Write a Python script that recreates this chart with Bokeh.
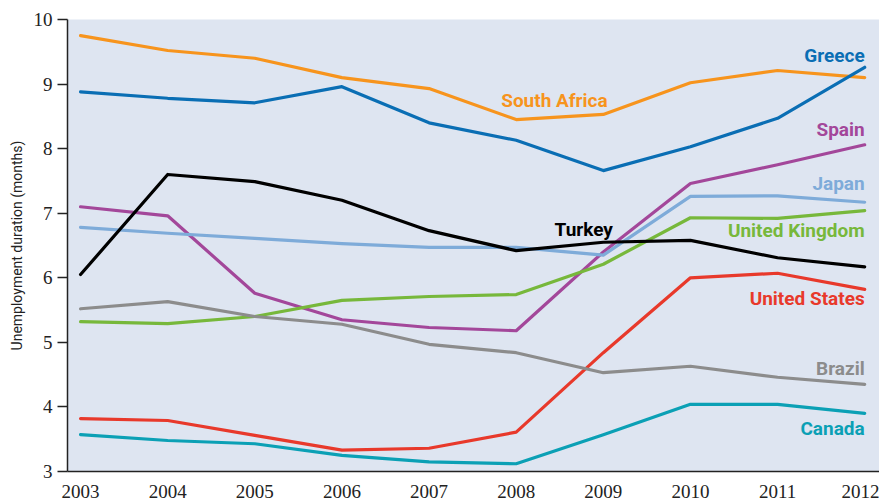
from bokeh.plotting import figure
from bokeh.embed import file_html
from bokeh.resources import INLINE
from bokeh.models import Range1d, FixedTicker
from bokeh.core.properties import value

years = [2003, 2004, 2005, 2006, 2007, 2008, 2009, 2010, 2011, 2012]

south_africa = [9.75, 9.52, 9.40, 9.10, 8.93, 8.45, 8.53, 9.02, 9.21, 9.10]
greece = [8.88, 8.78, 8.71, 8.96, 8.40, 8.13, 7.66, 8.03, 8.47, 9.26]
spain = [7.10, 6.96, 5.76, 5.35, 5.23, 5.18, 6.40, 7.46, 7.75, 8.06]
japan = [6.78, 6.69, 6.61, 6.53, 6.47, 6.47, 6.35, 7.26, 7.27, 7.17]
united_kingdom = [5.32, 5.29, 5.40, 5.65, 5.71, 5.74, 6.21, 6.93, 6.92, 7.04]
turkey = [6.05, 7.60, 7.49, 7.20, 6.73, 6.42, 6.55, 6.58, 6.31, 6.17]
united_states = [3.82, 3.79, 3.56, 3.33, 3.36, 3.61, 4.84, 6.00, 6.07, 5.82]
brazil = [5.52, 5.63, 5.40, 5.28, 4.97, 4.84, 4.53, 4.63, 4.46, 4.35]
canada = [3.57, 3.48, 3.43, 3.25, 3.15, 3.12, 3.57, 4.04, 4.04, 3.90]

series = [
    ("South Africa", south_africa, "#f7941d"),
    ("Greece", greece, "#0a6eb4"),
    ("Spain", spain, "#a3479a"),
    ("Japan", japan, "#7eabd9"),
    ("United Kingdom", united_kingdom, "#77b83b"),
    ("Turkey", turkey, "#000000"),
    ("United States", united_states, "#e8392b"),
    ("Brazil", brazil, "#8c8c8c"),
    ("Canada", canada, "#0ba0b5"),
]

# label anchors (right edge x, middle y) in data units
label_names = ["Greece", "South Africa", "Spain", "Japan", "United Kingdom",
               "Turkey", "United States", "Brazil", "Canada"]
label_x = [2012.0, 2009.05, 2012.0, 2012.0, 2012.0, 2009.11, 2012.0, 2012.0, 2012.0]
label_y = [9.44, 8.74, 8.30, 7.46, 6.73, 6.75, 5.68, 4.60, 3.67]
label_colors = ["#0a6eb4", "#f7941d", "#a3479a", "#7eabd9", "#77b83b",
                "#000000", "#e8392b", "#8c8c8c", "#0ba0b5"]

y_ticks = [3, 4, 5, 6, 7, 8, 9, 10]

p = figure(width=879, height=501, output_backend="svg", toolbar_location=None,
           x_range=Range1d(2002.85, 2012.17), y_range=Range1d(3, 10),
           min_border_left=67, min_border_right=0, min_border_top=19, min_border_bottom=30)

p.background_fill_color = "#dee5f1"
p.border_fill_color = "white"
p.outline_line_color = None
p.xgrid.visible = False
p.ygrid.visible = False

for name, vals, col in series:
    p.line(years, vals, line_color=col, line_width=3.2, line_join="round", line_cap="round")

p.text(x=label_x, y=label_y, text=label_names, text_color=label_colors,
       text_align="right", text_baseline="middle", text_font=value("Roboto"),
       text_font_style="bold", text_font_size="19px")

p.xaxis.ticker = FixedTicker(ticks=years)
p.yaxis.ticker = FixedTicker(ticks=y_ticks)
p.xaxis.major_tick_line_color = None
p.xaxis.minor_tick_line_color = None
p.yaxis.minor_tick_line_color = None
p.yaxis.major_tick_out = 10
p.yaxis.major_tick_in = 0
p.axis.axis_line_color = "#222222"
p.axis.axis_line_width = 1.5
p.yaxis.major_tick_line_color = "#222222"
p.yaxis.major_tick_line_width = 1.5
p.axis.major_label_text_font = "Liberation Sans Narrow"
p.axis.major_label_text_font_size = "19px"
p.axis.major_label_text_color = "#222222"
p.xaxis.major_label_standoff = 7
p.yaxis.major_label_standoff = 5
p.yaxis.axis_label = "Unemployment duration (months)"
p.yaxis.axis_label_text_font = "Roboto"
p.yaxis.axis_label_text_font_style = "normal"
p.yaxis.axis_label_text_font_size = "14px"
p.yaxis.axis_label_text_color = "#222222"
p.yaxis.axis_label_standoff = 6

open("out.html", "w").write(file_html(p, INLINE))
